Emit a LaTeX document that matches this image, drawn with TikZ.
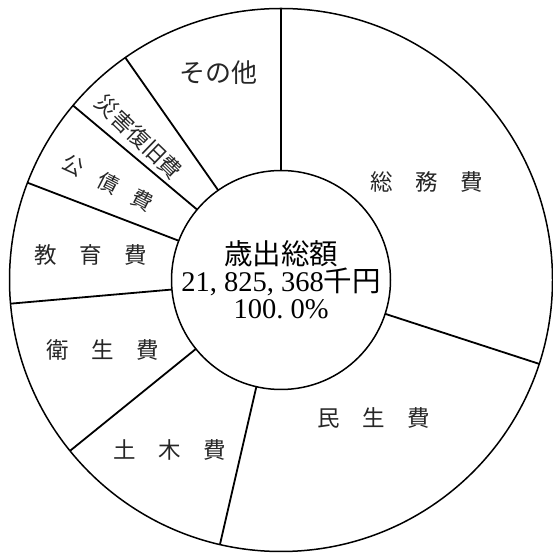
\documentclass[tikz,border=0pt]{standalone}
\usepackage{fontspec}
\newfontfamily\jp{Noto Sans CJK JP}
\newfontfamily\numf{Liberation Serif}
\begin{document}
\begin{tikzpicture}[x=1pt,y=1pt,
  ring/.style={circle, draw, line width=1.5pt, inner sep=0pt, outer sep=0pt},
  divider/.style={line width=1.8pt},
  lbl/.style={font=\jp\fontsize{22.5}{27}\selectfont, text=black!85, inner sep=0pt}]
\useasboundingbox (0,0) rectangle (553,554);
\coordinate (C) at (281,274);
\node[ring, minimum size=543pt] (outer) at (C) {};
\node[ring, minimum size=219pt] (inner) at (C) {};
\foreach \a in {90,342.8,257.6,219,185,159.5,140.7,125}
  \draw[divider] (inner.\a) -- (outer.\a);
\node[lbl] (somu) at (427,372) {総　務　費};
\node[lbl] (minsei) at (374,136) {民　生　費};
\node[lbl] (doboku) at (170,104) {土　木　費};
\node[lbl] (eisei) at (103,204) {衛　生　費};
\node[lbl] (kyoiku) at (91,299) {教　育　費};
\node[lbl, font=\jp\fontsize{21}{25}\selectfont, rotate=-27] (kosai) at (108,371) {公\hspace{0.85em}債\hspace{0.85em}費};
\node[lbl, font=\jp\fontsize{22}{25}\selectfont, rotate=-44] (saigai) at (139,417) {災害復旧費};
\node[lbl, font=\jp\fontsize{26}{30}\selectfont] (sonota) at (218,481) {その他};
\node[font=\jp\fontsize{28.5}{27}\selectfont, align=center, inner sep=0pt] (total) at (C)
  {歳出総額\\{\numf 21,\hspace{.25em}825,\hspace{.25em}368}千円\\{\numf 100.\hspace{.25em}0\%}};
\end{tikzpicture}
\end{document}
